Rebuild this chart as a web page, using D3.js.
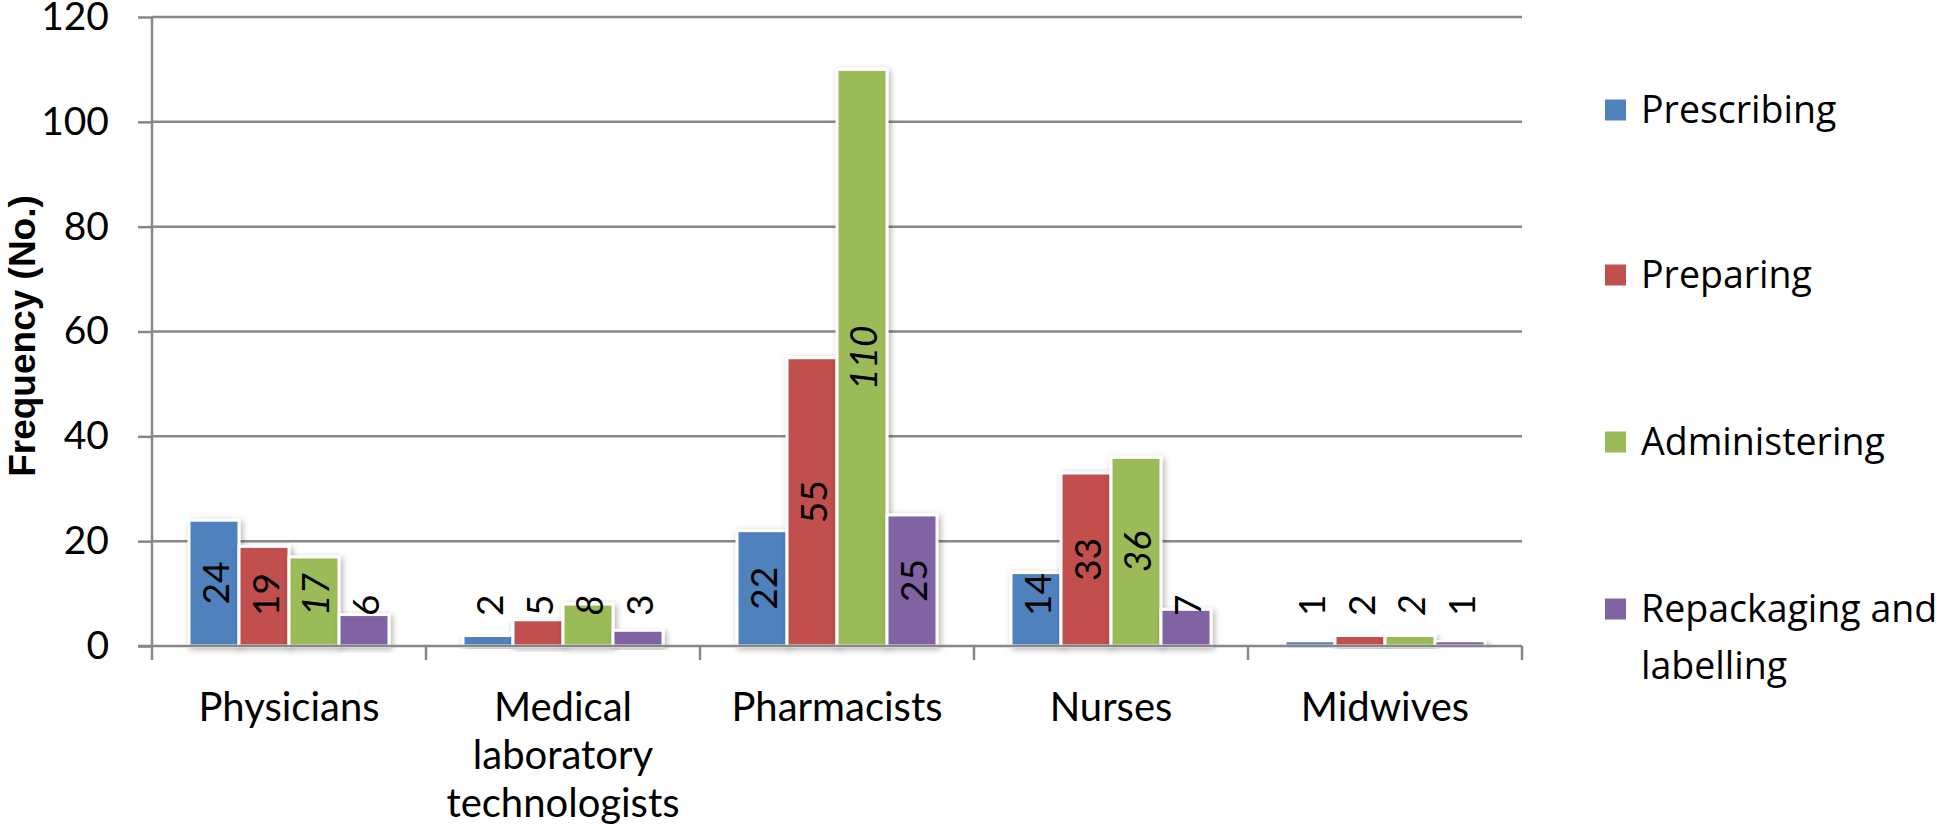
<!doctype html>
<html lang="en">
<head>
    <meta charset="UTF-8">
    <title>Frequency by profession</title>
    <style>
        body { margin: 0; background: #fff; }
        svg { display: block; }
    </style>
</head>
<body>

<div class="canvas">
    <svg width="1952" height="836"></svg>
</div>

<script src="https://d3js.org/d3.v7.min.js"></script>
<script>
    // data
    const categories = ['Physicians', 'Medical laboratory technologists', 'Pharmacists', 'Nurses', 'Midwives'];
    const categoryLines = [['Physicians'], ['Medical', 'laboratory', 'technologists'], ['Pharmacists'], ['Nurses'], ['Midwives']];
    const seriesNames = ['Prescribing', 'Preparing', 'Administering', 'Repackaging and labelling'];
    const legendLines = [['Prescribing'], ['Preparing'], ['Administering'], ['Repackaging and', 'labelling']];
    const prescribing = [24, 2, 22, 14, 1];
    const preparing = [19, 5, 55, 33, 2];
    const administering = [17, 8, 110, 36, 2];
    const repackaging = [6, 3, 25, 7, 1];
    const yTicks = [0, 20, 40, 60, 80, 100, 120];
    const colors = ['#4F81BD', '#C0504D', '#9BBB59', '#8064A2'];

    const seriesValues = [prescribing, preparing, administering, repackaging];
    const rows = categories.map((c, i) => ({
        name: c,
        values: seriesNames.map((s, j) => ({ series: s, idx: j, value: seriesValues[j][i] }))
    }));

    const svg = d3.select('.canvas svg');
    const plotLeft = 152, plotRight = 1522, plotTop = 17, plotBottom = 646;

    const y = d3.scaleLinear().domain([0, 120]).range([plotBottom, plotTop]);
    const x0 = d3.scaleBand().domain(categories).range([plotLeft, plotRight]).padding(0);
    const x1 = d3.scaleBand().domain(seriesNames).range([0, x0.bandwidth()])
        .paddingInner(0).paddingOuter(0.74);

    const defs = svg.append('defs');
    const shadow = defs.append('filter').attr('id', 'shadow')
        .attr('x', '-30%').attr('y', '-10%').attr('width', '160%').attr('height', '130%');
    shadow.append('feDropShadow')
        .attr('dx', 2).attr('dy', 2).attr('stdDeviation', 3)
        .attr('flood-color', '#000').attr('flood-opacity', 0.3);

    // gridlines
    svg.append('g')
        .selectAll('line')
        .data(yTicks.filter(d => d > 0))
        .enter()
        .append('line')
        .attr('x1', plotLeft).attr('x2', plotRight)
        .attr('y1', d => y(d)).attr('y2', d => y(d))
        .attr('stroke', '#878787').attr('stroke-width', 2.5);

    // bars
    const groups = svg.append('g')
        .selectAll('g')
        .data(rows)
        .enter()
        .append('g')
        .attr('transform', d => `translate(${x0(d.name)},0)`);

    groups.selectAll('rect')
        .data(d => d.values)
        .enter()
        .append('rect')
        .attr('x', d => x1(d.series))
        .attr('width', x1.bandwidth())
        .attr('y', d => y(d.value))
        .attr('height', d => y(0) - y(d.value))
        .attr('fill', d => colors[d.idx])
        .attr('stroke', '#fff')
        .attr('stroke-width', 3)
        .attr('filter', 'url(#shadow)');

    // y axis
    const yAxis = d3.axisLeft(y).tickValues(yTicks).tickSize(14).tickPadding(29);
    const ya = svg.append('g').attr('transform', `translate(${plotLeft},0)`).call(yAxis);
    ya.select('.domain').remove();
    ya.selectAll('line').attr('stroke', '#878787').attr('stroke-width', 2.5);
    ya.selectAll('text')
        .attr('font-family', 'Lato, sans-serif')
        .attr('font-size', 39)
        .attr('fill', '#000');

    svg.append('line')
        .attr('x1', plotLeft).attr('x2', plotLeft).attr('y1', plotTop).attr('y2', plotBottom)
        .attr('stroke', '#878787').attr('stroke-width', 2.5);

    // x axis
    svg.append('line')
        .attr('x1', plotLeft - 14).attr('x2', plotRight).attr('y1', plotBottom).attr('y2', plotBottom)
        .attr('stroke', '#878787').attr('stroke-width', 2.5);
    svg.append('g')
        .selectAll('line')
        .data(categories.map(c => x0(c)).concat([plotRight]))
        .enter()
        .append('line')
        .attr('x1', d => d).attr('x2', d => d)
        .attr('y1', plotBottom).attr('y2', plotBottom + 14)
        .attr('stroke', '#878787').attr('stroke-width', 2.5);

    const xl = svg.append('g')
        .selectAll('text')
        .data(categories)
        .enter()
        .append('text')
        .attr('x', d => x0(d) + x0.bandwidth() / 2)
        .attr('y', 721)
        .attr('text-anchor', 'middle')
        .attr('font-family', 'Lato, sans-serif')
        .attr('font-size', 40)
        .attr('fill', '#000');
    xl.selectAll('tspan')
        .data((d, i) => categoryLines[i])
        .enter()
        .append('tspan')
        .attr('x', function () { return this.parentNode.getAttribute('x'); })
        .attr('dy', (d, i) => i === 0 ? 0 : 48)
        .text(d => d);

    // data labels, rotated; small bars push the label up above the bar
    const labelLimit = plotBottom - 30;
    groups.selectAll('text.val')
        .data(d => d.values)
        .enter()
        .append('text')
        .attr('class', 'val')
        .attr('text-anchor', 'middle')
        .attr('dominant-baseline', 'central')
        .attr('font-family', 'Lato, sans-serif')
        .attr('font-size', 37)
        .attr('font-style', d => d.idx === 2 ? 'italic' : 'normal')
        .attr('fill', '#000')
        .text(d => d.value)
        .attr('transform', function (d) {
            const len = this.getComputedTextLength();
            const cx = x1(d.series) + x1.bandwidth() / 2;
            const cy = Math.min((y(d.value) + y(0)) / 2, labelLimit - len / 2);
            return `translate(${cx},${cy}) rotate(-90)`;
        });

    // y title
    svg.append('text')
        .attr('transform', 'translate(35,336) rotate(-90)')
        .attr('text-anchor', 'middle')
        .attr('font-family', '"Liberation Sans", Arial, sans-serif')
        .attr('font-weight', 'bold')
        .attr('font-size', 37)
        .text('Frequency (No.)');

    // legend
    const legendY = [110, 275, 442, 609];
    const legend = svg.append('g')
        .selectAll('g')
        .data(seriesNames)
        .enter()
        .append('g')
        .attr('transform', (d, i) => `translate(1605,${legendY[i]})`);
    legend.append('rect')
        .attr('x', 0).attr('y', -10.5)
        .attr('width', 21).attr('height', 21)
        .attr('fill', (d, i) => colors[i]);
    const lt = legend.append('text')
        .attr('x', 36)
        .attr('y', 13)
        .attr('font-family', '"Open Sans", sans-serif')
        .attr('font-size', 37.5)
        .attr('fill', '#000');
    lt.selectAll('tspan')
        .data((d, i) => legendLines[i])
        .enter()
        .append('tspan')
        .attr('x', 36)
        .attr('dy', (d, i) => i === 0 ? 0 : 57)
        .text(d => d);
</script>
</body>
</html>
